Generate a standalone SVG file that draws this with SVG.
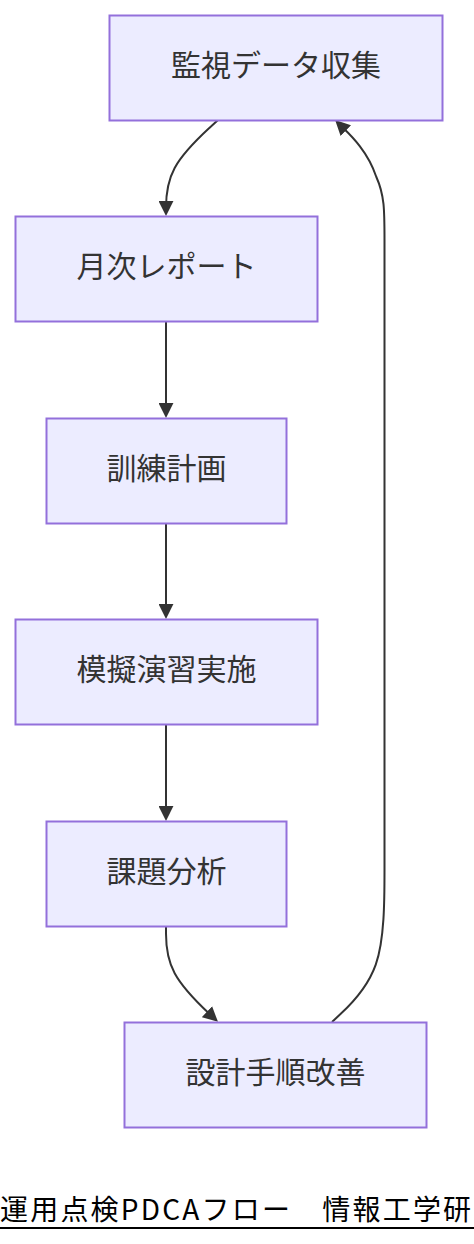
<svg xmlns="http://www.w3.org/2000/svg" width="474" height="1244" viewBox="0 0 474 1244">
<style>
.node rect{fill:#ECECFF;stroke:#9370DB;stroke-width:2}
.node text{font-family:"Noto Sans CJK JP","Liberation Sans",sans-serif;font-size:30px;fill:#333;text-anchor:middle}
.edge{fill:none;stroke:#333;stroke-width:2;marker-end:url(#arrow)}
.title{font-family:"Noto Sans CJK JP","Liberation Sans",sans-serif;font-size:28px;fill:#000;letter-spacing:2.2px}
</style>
<defs>
<marker id="arrow" viewBox="0 0 10 10" refX="7.4" refY="5" markerUnits="userSpaceOnUse" markerWidth="15" markerHeight="15" orient="auto">
<path d="M0,0 L10,5 L0,10 z" fill="#333"/>
</marker>
</defs>
<rect width="474" height="1244" fill="#fff"/>
<g id="connectors">
<path class="edge" d="M218,120 L209.33,128 C200.67,136 183.33,152 174.67,168 C166,184 166,200 166,208 L166,212"/>
<path class="edge" d="M166,321 L166,414"/>
<path class="edge" d="M166,523 L166,615"/>
<path class="edge" d="M166,724 L166,817"/>
<path class="edge" d="M166,926 L166,933.8 C166,941.7 166,957.3 174.67,973.3 C183.33,989.3 200.67,1005.7 209.33,1013.8 L215.1,1019.2"/>
<path class="edge" d="M332,1022 L340.75,1013.8 C349.5,1005.7 367,989.3 375.75,964.6 C384.5,940 384.5,900 384.5,870 L384.5,240 C384.5,210 384.5,195 376.25,176.75 C368,152 351.5,136 343.25,128 L337.9,122.8"/>
</g>
<g id="n1" class="node"><rect x="109.5" y="15.5" width="333" height="105"/><text x="276" y="76">監視データ収集</text></g>
<g id="n2" class="node"><rect x="15.5" y="216.5" width="302" height="105"/><text x="166.5" y="277">月次レポート</text></g>
<g id="n3" class="node"><rect x="46.5" y="418.5" width="240" height="105"/><text x="166.5" y="479">訓練計画</text></g>
<g id="n4" class="node"><rect x="15.5" y="619.5" width="302" height="105"/><text x="166.5" y="680">模擬演習実施</text></g>
<g id="n5" class="node"><rect x="46.5" y="821.5" width="240" height="105"/><text x="166.5" y="882">課題分析</text></g>
<g id="n6" class="node"><rect x="124.5" y="1022.5" width="302" height="105"/><text x="275.5" y="1083">設計手順改善</text></g>
<g id="title">
<text class="title" x="0" y="1220">運用点検PDCAフロー　情報工学研</text>
<line x1="0" y1="1228" x2="474" y2="1228" stroke="#000" stroke-width="2"/>
</g>
</svg>
